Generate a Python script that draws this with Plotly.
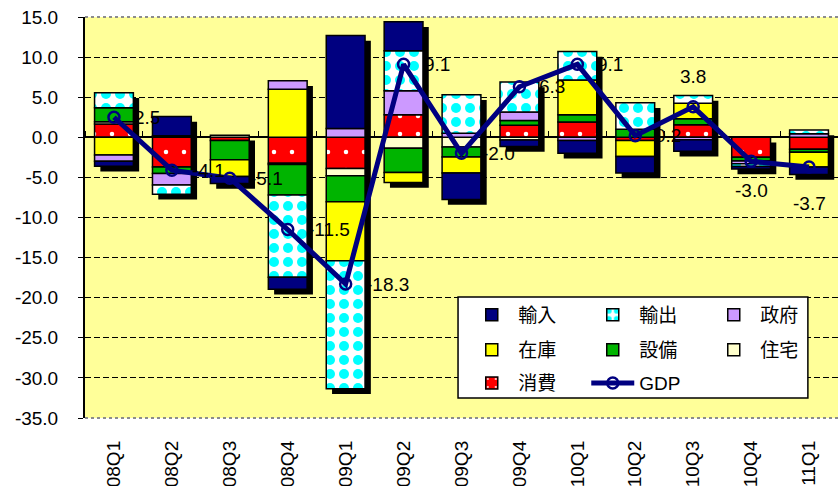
import numpy as np
import plotly.graph_objects as go

# ---------------- data ----------------
quarters = ["08Q1", "08Q2", "08Q3", "08Q4", "09Q1", "09Q2", "09Q3",
            "09Q4", "10Q1", "10Q2", "10Q3", "10Q4", "11Q1"]

consumption = [1.65, -3.7, -0.4, -3.25, -3.9, 2.8, 0.0, 1.5, 1.9, -0.4, 1.55, -2.5, -1.5]
housing     = [0.3, 0.0, 0.25, -0.15, -0.9, -1.35, -1.2, -0.35, 0.0, 0.0, 0.0, 0.0, 0.0]
equipment   = [1.75, -0.8, -2.4, -3.8, -3.25, -3.05, -1.25, 0.6, 0.9, 1.0, 0.75, -0.45, -0.35]
inventory   = [-2.2, 0.2, -2.1, 6.0, -7.35, -1.25, -2.0, 0.0, 4.35, -2.0, 1.95, 0.0, -1.85]
government  = [-0.8, -1.45, 0.0, 1.05, 1.1, 3.0, 0.5, 1.05, -0.4, 0.0, -0.3, -0.35, 0.45]
exports     = [1.85, -1.15, 0.0, -10.25, -15.95, 5.0, 4.8, 3.75, 3.55, 3.3, 0.95, -0.35, 0.45]
imports     = [-0.6, 2.4, -0.85, -1.5, 11.6, 3.6, -3.3, -0.8, -1.6, -2.05, -1.45, -0.3, -0.95]
gdp         = [2.5, -4.1, -5.1, -11.5, -18.3, 9.1, -2.0, 6.3, 9.1, 0.2, 3.8, -3.0, -3.7]

y_tick_vals = [15, 10, 5, 0, -5, -10, -15, -20, -25, -30, -35]
y_tick_labels = ["15.0", "10.0", "5.0", "0.0", "-5.0", "-10.0", "-15.0",
                 "-20.0", "-25.0", "-30.0", "-35.0"]
grid_vals = [10, 5, -5, -10, -15, -20, -25, -30]

# label placement of GDP data labels (style)
label_side = ["r"] * 10 + ["t", "b", "b2"]

# ---------------- style ----------------
FONT = "Liberation Sans, Arial, Noto Sans CJK JP, sans-serif"
NAVY = "#000080"
BAR_W = 0.67
SHADOW_DX = 0.1
SHADOW_DY = 0.65

series = [
    ("消費", consumption, dict(color="#FF0000",
        pattern=dict(shape=".", fgcolor="#FFFFFF", bgcolor="#FF0000", size=18, solidity=0.05, fillmode="replace")),
     "legend3", 7),
    ("住宅", housing, dict(color="#FFFFCC"), "legend2", 6),
    ("設備", equipment, dict(color="#00B400"), "legend2", 5),
    ("在庫", inventory, dict(color="#FFFF00"), "legend2", 4),
    ("政府", government, dict(color="#CC99FF"), "legend", 3),
    ("輸出", exports, dict(color="#00FFFF",
        pattern=dict(shape=".", fgcolor="#00FFFF", bgcolor="#FFFFFF", size=14, solidity=0.4, fillmode="replace")),
     "legend", 2),
    ("輸入", imports, dict(color=NAVY), "legend", 1),
]

n = len(quarters)
pos = np.zeros(n)
neg = np.zeros(n)
bar_traces = []
for name, vals, mk, leg, rank in series:
    v = np.array(vals, dtype=float)
    base = np.where(v >= 0, pos, neg)
    pos = pos + np.clip(v, 0, None)
    neg = neg + np.clip(v, None, 0)
    yv = [None if val == 0 else float(val) for val in v]
    bar_traces.append(go.Bar(
        x=quarters, y=yv, base=base.tolist(), name=name,
        width=BAR_W, offset=-BAR_W / 2,
        marker=dict(**mk, line=dict(color="black", width=1.5)),
        legend=leg, legendrank=rank, hoverinfo="skip",
    ))

fig = go.Figure()
# drop shadows of the stacked columns
fig.add_trace(go.Bar(
    x=quarters, y=(pos - neg).tolist(), base=(neg - SHADOW_DY).tolist(),
    width=BAR_W, offset=-BAR_W / 2 + SHADOW_DX,
    marker=dict(color="black", line=dict(width=0)),
    showlegend=False, hoverinfo="skip",
))
for t in bar_traces:
    fig.add_trace(t)

fig.add_trace(go.Scatter(
    x=quarters, y=gdp, name="GDP", mode="lines+markers",
    line=dict(color=NAVY, width=5),
    marker=dict(symbol="circle-open", size=11, color=NAVY, line=dict(width=2.5, color=NAVY)),
    legend="legend3", legendrank=8, hoverinfo="skip",
))
# helper trace for the category axis drawn through zero
fig.add_trace(go.Scatter(
    x=quarters, y=gdp, xaxis="x2", mode="markers",
    marker=dict(opacity=0), showlegend=False, hoverinfo="skip",
))

# data labels
for q, v, side in zip(quarters, gdp, label_side):
    a = dict(x=q, y=v, text=f"{v:.1f}", showarrow=False,
             font=dict(size=19, color="black", family=FONT))
    if side == "r":
        a.update(xanchor="left", yanchor="middle", xshift=18)
    elif side == "t":
        a.update(xanchor="center", yanchor="middle", yshift=30)
    elif side == "b":
        a.update(xanchor="center", yanchor="middle", yshift=-29)
    else:
        a.update(xanchor="center", yanchor="middle", yshift=-37)
    fig.add_annotation(**a)

y_min, y_max = -35, 15
zero_pos = (0 - y_min) / (y_max - y_min)

leg_common = dict(orientation="h", bgcolor="rgba(0,0,0,0)", borderwidth=0,
                  font=dict(size=19, color="black", family=FONT),
                  itemwidth=43, entrywidth=63, entrywidthmode="pixels",
                  xanchor="left", yanchor="middle", x=0.505,
                  itemclick=False, itemdoubleclick=False)

fig.update_layout(
    template="none",
    width=838, height=486,
    margin=dict(l=85, r=0, t=17, b=68, pad=0),
    paper_bgcolor="white",
    plot_bgcolor="#FFFF99",
    barmode="overlay",
    font=dict(family=FONT, size=19, color="black"),
    hovermode=False,
    xaxis=dict(type="category", categoryorder="array", categoryarray=quarters,
               range=[-0.5, n - 0.5], tickangle=-90, ticks="", showline=False,
               showgrid=False, zeroline=False, ticklabelstandoff=18,
               tickfont=dict(size=19), automargin=False),
    xaxis2=dict(type="category", overlaying="x", matches="x", anchor="free",
                position=zero_pos, side="top", showline=True, linecolor="black",
                linewidth=1.5, ticks="outside", ticklen=6, tickwidth=1,
                tickcolor="black", tickson="boundaries", showticklabels=False,
                showgrid=False, zeroline=False, layer="below traces", automargin=False),
    yaxis=dict(range=[y_min, y_max], tickmode="array", tickvals=y_tick_vals,
               ticktext=y_tick_labels, ticks="outside", ticklen=5, tickcolor="black",
               showline=True, linecolor="black", linewidth=2, showgrid=False,
               zeroline=False, ticklabelstandoff=16, tickfont=dict(size=19),
               minor=dict(tickmode="array", tickvals=grid_vals, showgrid=True,
                          gridcolor="black", gridwidth=1.3, griddash="6px,3px", ticks=""),
               automargin=False),
    legend=dict(**leg_common, y=0.257),
    legend2=dict(**leg_common, y=0.170),
    legend3=dict(**leg_common, y=0.087),
    showlegend=True,
)

# plot-area border (grey dotted, top and bottom) and legend box
for yb in (0, 1):
    fig.add_shape(type="line", xref="x domain", yref="y domain", x0=0, x1=1, y0=yb, y1=yb,
                  line=dict(color="#8C8C8C", width=2, dash="dot"), layer="below")
fig.add_shape(type="rect", xref="paper", yref="paper",
              x0=0.4954, x1=0.960, y0=0.0499, y1=0.3017,
              fillcolor="white", line=dict(color="black", width=1.5), layer="above")

fig.write_html("out.html")
